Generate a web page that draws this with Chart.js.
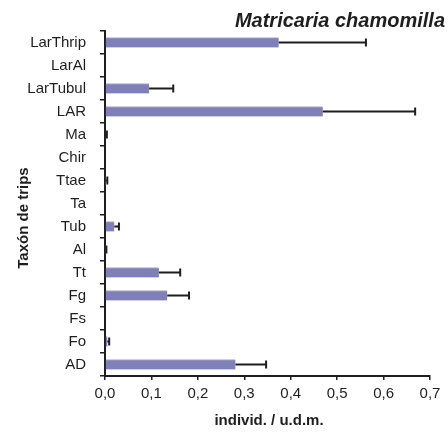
<!DOCTYPE html>
<html>
<head>
<meta charset="utf-8">
<script src="https://cdn.jsdelivr.net/npm/chart.js@4.4.0/dist/chart.umd.min.js"></script>
<style>
  html, body { margin: 0; padding: 0; background: #fff; }
  #wrap { width: 448px; height: 434px; }
</style>
</head>
<body>
<div id="wrap"><canvas id="chart" width="448" height="434"></canvas></div>
<script>
// taxones (de arriba a abajo) y valores medios con su error
const taxones = ['LarThrip', 'LarAl', 'LarTubul', 'LAR', 'Ma', 'Chir', 'Ttae', 'Ta', 'Tub', 'Al', 'Tt', 'Fg', 'Fs', 'Fo', 'AD'];
const medias  = [0.374, 0, 0.095, 0.469, 0.002, 0, 0.001, 0, 0.020, 0.001, 0.116, 0.134, 0, 0.005, 0.281];
const errores = [0.188, 0, 0.052, 0.199, 0.002, 0, 0.004, 0, 0.010, 0.002, 0.046, 0.047, 0, 0.004, 0.066];
const xTicks  = [0, 0.1, 0.2, 0.3, 0.4, 0.5, 0.6, 0.7];

const titulo = 'Matricaria chamomilla';
const tituloY = 'Taxón de trips';
const tituloX = 'individ. / u.d.m.';

const FONT = '"Liberation Sans", Arial, sans-serif';
const INK = '#1e1e1e';

const errorBars = {
  id: 'errorBars',
  afterDatasetsDraw(chart) {
    const ctx = chart.ctx;
    const xs = chart.scales.x;
    const meta = chart.getDatasetMeta(0);
    ctx.save();
    ctx.strokeStyle = INK;
    ctx.lineWidth = 2;
    meta.data.forEach((bar, i) => {
      if (!errores[i]) return;
      const x0 = xs.getPixelForValue(medias[i]);
      const x1 = xs.getPixelForValue(medias[i] + errores[i]);
      ctx.beginPath();
      ctx.moveTo(x0, bar.y);
      ctx.lineTo(x1, bar.y);
      ctx.moveTo(x1, bar.y - 4);
      ctx.lineTo(x1, bar.y + 4);
      ctx.stroke();
    });
    ctx.restore();
  }
};

const textos = {
  id: 'textos',
  afterDraw(chart) {
    const ctx = chart.ctx;
    ctx.save();
    ctx.fillStyle = INK;
    ctx.font = 'italic bold 20px ' + FONT;
    ctx.textAlign = 'right';
    ctx.textBaseline = 'alphabetic';
    ctx.fillText(titulo, 445, 27);

    ctx.font = 'bold 15px ' + FONT;
    ctx.textAlign = 'center';
    ctx.textBaseline = 'middle';
    ctx.fillText(tituloX, 269, 421);

    ctx.translate(24, 218);
    ctx.rotate(-Math.PI / 2);
    ctx.fillText(tituloY, 0, 0);
    ctx.restore();
  }
};

new Chart(document.getElementById('chart'), {
  type: 'bar',
  data: {
    labels: taxones,
    datasets: [{
      data: medias,
      backgroundColor: '#7f7fb9',
      borderColor: '#a9a9d3',
      borderWidth: { top: 1, right: 0, bottom: 0, left: 0 },
      borderSkipped: false,
      barThickness: 10
    }]
  },
  options: {
    indexAxis: 'y',
    responsive: false,
    animation: false,
    layout: { padding: { top: 31, right: 18, left: 0, bottom: 0 } },
    plugins: {
      legend: { display: false },
      tooltip: { enabled: false },
      title: { display: false }
    },
    scales: {
      y: {
        type: 'category',
        offset: true,
        grid: { offset: true, drawOnChartArea: false, tickLength: 5, color: INK, lineWidth: 1.5 },
        border: { color: INK, width: 2 },
        ticks: { color: INK, font: { family: FONT, size: 15 }, padding: 14 },
        afterFit(scale) { scale.width = 105; }
      },
      x: {
        min: 0,
        max: 0.7,
        afterBuildTicks(scale) { scale.ticks = xTicks.map(v => ({ value: v })); },
        grid: { drawOnChartArea: false, tickLength: 4, color: INK, lineWidth: 1.5 },
        border: { color: INK, width: 2 },
        ticks: {
          color: INK,
          font: { family: FONT, size: 15 },
          padding: 5,
          callback: v => Number(v).toFixed(1).replace('.', ',')
        },
        afterFit(scale) { scale.height = 58; }
      }
    }
  },
  plugins: [errorBars, textos]
});
</script>
</body>
</html>
